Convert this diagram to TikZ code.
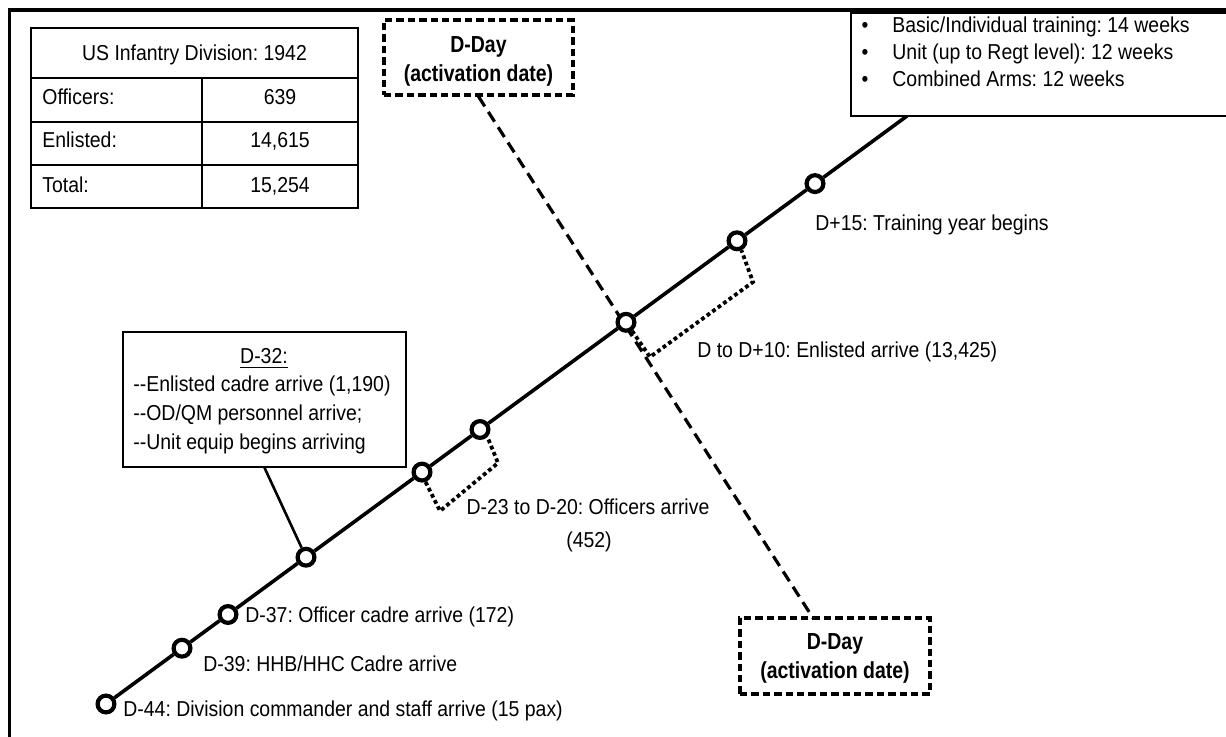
\documentclass[tikz,border=0pt]{standalone}
\usepackage{fontspec}
\setmainfont{Liberation Sans}[FakeStretch=0.9]
\newfontfamily\ddayfont{Liberation Sans}[FakeStretch=0.84]
\newcommand{\regfont}{\fontsize{10.8}{14.5}\selectfont}
\newcommand{\ddfont}{\ddayfont\bfseries\fontsize{11.6}{14.5}\selectfont}
\frenchspacing
\begin{document}
\begin{tikzpicture}[x=0.5pt,y=-0.5pt,
  txt/.style={anchor=base west, inner sep=0, font=\regfont},
  ctxt/.style={anchor=base, inner sep=0, font=\regfont},
  dtxt/.style={anchor=base, inner sep=0, font=\ddfont},
  dot/.style={circle, draw, line width=2.1pt, fill=white, minimum size=8.4pt, inner sep=0},
  mainline/.style={line width=1.8pt},
  dbox/.style={draw, line width=1.6pt, dash pattern=on 3.7pt off 2pt, rectangle, inner sep=0},
  dconn/.style={line width=1.6pt, dash pattern=on 5.8pt off 3.3pt},
  brk/.style={line width=1.9pt, dash pattern=on 1.9pt off 1.5pt},
  thinbox/.style={draw, line width=0.7pt, rectangle, inner sep=0},
  tline/.style={line width=0.6pt},
]
\useasboundingbox (0,0) rectangle (1226,737);
% frame
\draw[line width=1.8pt] (9.5,745) -- (9.5,10) -- (1235,10);
% table
\draw[tline] (31,28) rectangle (358,208);
\draw[tline] (31,78) -- (358,78) (31,122) -- (358,122) (31,165) -- (358,165) (202,78) -- (202,208);
\node[ctxt] (th) at (194.5,61) {US Infantry Division: 1942};
\node[txt] (t1l) at (42,105) {Officers:};
\node[ctxt] (t1r) at (280,105) {639};
\node[txt] (t2l) at (42,148) {Enlisted:};
\node[ctxt] (t2r) at (280,148) {14,615};
\node[txt] (t3l) at (42,193) {Total:};
\node[ctxt] (t3r) at (280,193) {15,254};
% D-Day boxes
\node[dbox, minimum width=94.5pt, minimum height=37.5pt] (dtop) at (478.5,57.5) {};
\node[dtxt] (dt1) at (478.5,53) {D-Day};
\node[dtxt] (dt2) at (478.5,82) {(activation date)};
\node[dbox, minimum width=95pt, minimum height=38pt] (dbot) at (835,656) {};
\node[dtxt] (db1) at (835,649) {D-Day};
\node[dtxt] (db2) at (835,678) {(activation date)};
\coordinate (dbin) at (813,618);
\draw[dconn] (dtop.south) -- (dbin);
% timeline points
\node[dot] (c44) at (106,704) {};
\node[dot] (c39) at (182,648.2) {};
\node[dot] (c37) at (228,614.5) {};
\node[dot] (c32) at (306,557.2) {};
\node[dot] (c23) at (422,472.1) {};
\node[dot] (c20) at (480,429.5) {};
\node[dot] (cD) at (626,322.3) {};
\node[dot] (c10) at (737,240.8) {};
\node[dot] (c15) at (815,183.6) {};
\coordinate (lend) at (907,116);
\draw[mainline] (c44) -- (c39) -- (c37) -- (c32) -- (c23) -- (c20) -- (cD) -- (c10) -- (c15) -- (lend);
% bullet box
\draw[line width=0.75pt, fill=white] (1235,13) -- (851,13) -- (851,116) -- (1235,116);
\node[ctxt] (bu1) at (865,33) {\textbullet};
\node[ctxt] (bu2) at (865,60) {\textbullet};
\node[ctxt] (bu3) at (865,87) {\textbullet};
\node[txt] (bt1) at (892,33) {Basic/Individual training: 14 weeks};
\node[txt] (bt2) at (892,60) {Unit (up to Regt level): 12 weeks};
\node[txt] (bt3) at (892,87) {Combined Arms: 12 weeks};
% D-32 box
\node[thinbox, minimum width=141.5pt, minimum height=67.5pt] (box32) at (264.5,399.5) {};
\node[ctxt] (b32h) at (264,364) {\underline{D-32:}};
\node[txt] (b32a) at (133,392) {-{}-Enlisted cadre arrive (1,190)};
\node[txt] (b32b) at (133,421) {-{}-OD/QM personnel arrive;};
\node[txt] (b32c) at (133,450) {-{}-Unit equip begins arriving};
\draw[line width=1.3pt] (box32.south) -- (c32);
% brackets
\coordinate (o1) at (440,511);
\coordinate (o2) at (498,463);
\draw[brk] (c23.-70) -- (o1) -- (o2) -- (c20.-45);
\coordinate (e1) at (650,357);
\coordinate (e2) at (753,282);
\draw[brk] (cD.-55) -- (e1) -- (e2) -- (c10.-65);
% labels
\node[txt] (l44) at (123,716) {D-44: Division commander and staff arrive (15 pax)};
\node[txt] (l39) at (203,671) {D-39: HHB/HHC Cadre arrive};
\node[txt] (l37) at (245,622) {D-37: Officer cadre arrive (172)};
\node[ctxt] (l23a) at (588,515) {D-23 to D-20: Officers arrive};
\node[ctxt] (l23b) at (589,547) {(452)};
\node[txt] (l10) at (697,358) {D to D+10: Enlisted arrive (13,425)};
\node[txt] (l15) at (815,231) {D+15: Training year begins};
\end{tikzpicture}
\end{document}
